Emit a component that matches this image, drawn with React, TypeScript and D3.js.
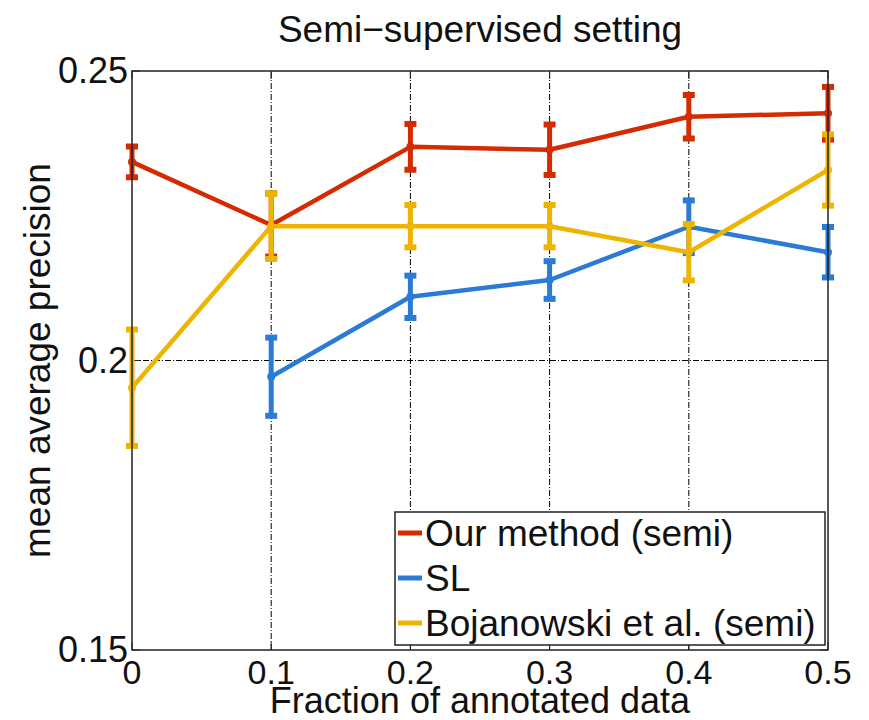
import React from "react";
import * as d3 from "d3";

const fractions = [0, 0.1, 0.2, 0.3, 0.4, 0.5];
const ourMean = [0.2343, 0.2234, 0.2369, 0.2364, 0.2421, 0.2427];
const ourErr = [0.003, 0.0058, 0.0043, 0.0047, 0.0041, 0.0049];
const slMean = [null, 0.1972, 0.211, 0.2139, 0.2231, 0.2187];
const slErr = [null, 0.0071, 0.004, 0.0036, 0.0049, 0.0047];
const bojMean = [0.1953, 0.2232, 0.2232, 0.2232, 0.2187, 0.2329];
const bojErr = [0.0104, 0.006, 0.004, 0.004, 0.0052, 0.0065];
const xTicks = [0, 0.1, 0.2, 0.3, 0.4, 0.5];
const yTicks = [0.15, 0.2, 0.25];
const seriesNames = ["Our method (semi)", "SL", "Bojanowski et al. (semi)"];
const seriesColors = ["#d42b00", "#2b7bd6", "#edb400"];

const App = () => {
  const width = 869;
  const height = 720;
  const margin = { top: 71, right: 41, bottom: 70, left: 132 };
  const font = "'Liberation Sans', Arial, sans-serif";

  const x = d3
    .scaleLinear()
    .domain([0, 0.5])
    .range([margin.left, width - margin.right]);
  const y = d3
    .scaleLinear()
    .domain([0.15, 0.25])
    .range([height - margin.bottom, margin.top]);

  const series = [
    { mean: ourMean, err: ourErr },
    { mean: slMean, err: slErr },
    { mean: bojMean, err: bojErr },
  ];

  const line = d3
    .line<number | null>()
    .defined((d) => d !== null)
    .x((d, i) => x(fractions[i]))
    .y((d) => y(d as number));

  const x0 = x(0);
  const x1 = x(0.5);
  const y0 = y(0.15);
  const y1 = y(0.25);

  return (
    <svg
      width={width}
      height={height}
      style={{ position: "absolute", left: 0, top: 0, background: "#fff" }}
      fontFamily={font}
    >
      {/* grid */}
      {xTicks.slice(1, -1).map((t) => (
        <line
          key={"gx" + t}
          x1={x(t)}
          x2={x(t)}
          y1={y0}
          y2={y1}
          stroke="#000"
          strokeWidth={1}
          strokeDasharray="6 2 1 2"
        />
      ))}
      {yTicks.slice(1, -1).map((t) => (
        <line
          key={"gy" + t}
          x1={x0}
          x2={x1}
          y1={y(t)}
          y2={y(t)}
          stroke="#000"
          strokeWidth={1}
          strokeDasharray="6 2 1 2"
        />
      ))}

      {/* ticks */}
      {xTicks.map((t) => (
        <g key={"tx" + t} stroke="#222" strokeWidth={1}>
          <line x1={x(t)} x2={x(t)} y1={y0} y2={y0 - 8} />
          <line x1={x(t)} x2={x(t)} y1={y1} y2={y1 + 8} />
        </g>
      ))}
      {yTicks.map((t) => (
        <g key={"ty" + t} stroke="#222" strokeWidth={1}>
          <line x1={x0} x2={x0 + 8} y1={y(t)} y2={y(t)} />
          <line x1={x1} x2={x1 - 8} y1={y(t)} y2={y(t)} />
        </g>
      ))}

      {/* series */}
      {series.map((s, si) => (
        <g key={"s" + si}>
          <path
            d={line(s.mean) || ""}
            fill="none"
            stroke={seriesColors[si]}
            strokeWidth={4.5}
            strokeLinejoin="round"
          />
          {s.mean.map((m, i) => {
            if (m === null) return null;
            const e = s.err[i] as number;
            const cx = x(fractions[i]);
            const top = y(m + e);
            const bot = y(m - e);
            return (
              <g key={i} stroke={seriesColors[si]}>
                <line x1={cx} x2={cx} y1={top} y2={bot} strokeWidth={5} />
                <line x1={cx - 6} x2={cx + 6} y1={top + 2} y2={top + 2} strokeWidth={6} />
                <line x1={cx - 6} x2={cx + 6} y1={bot - 2} y2={bot - 2} strokeWidth={6} />
                <circle cx={cx} cy={y(m)} r={4} fill={seriesColors[si]} stroke="none" />
              </g>
            );
          })}
        </g>
      ))}

      {/* frame */}
      <rect
        x={x0}
        y={y1}
        width={x1 - x0}
        height={y0 - y1}
        fill="none"
        stroke="#222"
        strokeWidth={1.5}
      />

      {/* tick labels */}
      {xTicks.map((t) => (
        <text
          key={"lx" + t}
          x={x(t)}
          y={y0 + 34}
          textAnchor="middle"
          fontSize={34}
          fill="#111"
        >
          {String(t)}
        </text>
      ))}
      {yTicks.map((t) => (
        <text
          key={"ly" + t}
          x={x0 - 4}
          y={y(t) + 12}
          textAnchor="end"
          fontSize={36}
          fill="#111"
        >
          {String(t)}
        </text>
      ))}

      {/* labels */}
      <text x={480} y={42} textAnchor="middle" fontSize={37} fill="#111">
        Semi−supervised setting
      </text>
      <text x={480} y={713} textAnchor="middle" fontSize={36} fill="#111">
        Fraction of annotated data
      </text>
      <text
        transform={`translate(50, ${(y0 + y1) / 2}) rotate(-90)`}
        textAnchor="middle"
        fontSize={37}
        fill="#111"
      >
        mean average precision
      </text>

      {/* legend */}
      <g>
        <rect
          x={395}
          y={512}
          width={430}
          height={133}
          fill="#fff"
          stroke="#222"
          strokeWidth={1.5}
        />
        {seriesNames.map((name, i) => (
          <g key={name} transform={`translate(398, ${533 + i * 45})`}>
            <line x1={0} x2={24} y1={0} y2={0} stroke={seriesColors[i]} strokeWidth={5} />
            <text x={27} y={13} fontSize={37} fill="#111">
              {name}
            </text>
          </g>
        ))}
      </g>
    </svg>
  );
};

export default App;
